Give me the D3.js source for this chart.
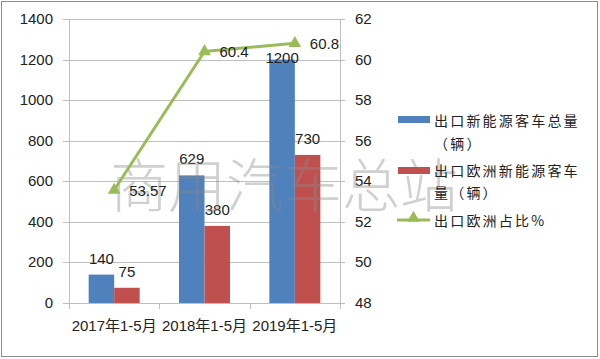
<!DOCTYPE html>
<html><head><meta charset="utf-8">
<script src="https://cdn.jsdelivr.net/npm/d3@7"></script>
<style>body{margin:0;background:#fff}svg{display:block}</style>
</head><body>
<svg id="c" width="600" height="359"></svg>
<script>
const categories = ["2017年1-5月", "2018年1-5月", "2019年1-5月"];
const totalExports = [140, 629, 1200];
const europeExports = [75, 380, 730];
const europeShare = [53.57, 60.4, 60.8];
const shareLabels = ["53.57", "60.4", "60.8"];
const leftTicks = [0, 200, 400, 600, 800, 1000, 1200, 1400];
const rightTicks = [48, 50, 52, 54, 56, 58, 60, 62];
const seriesNames = ["出口新能源客车总量", "出口欧洲新能源客车量（辆）", "出口欧洲占比%"];

const svg = d3.select("#c");
const font = "'Liberation Sans', 'Noto Sans CJK SC', sans-serif";
const cjk = "'Noto Sans CJK SC', sans-serif";
const blue = "#4f81bd", red = "#c0504d", green = "#9bbb59", grid = "#bfbfbf";
const L = 69, R = 340, T = 19, B = 303;

svg.append("rect").attr("x", 1.5).attr("y", 1.5).attr("width", 596).attr("height", 355)
  .attr("fill", "#fff").attr("stroke", "#8c8c8c");

const x = d3.scaleBand().domain(categories).range([L, R]);
const yL = d3.scaleLinear().domain([0, 1400]).range([B, T]);
const yR = d3.scaleLinear().domain([48, 62]).range([B, T]);

// gridlines
svg.append("g").selectAll("line").data(leftTicks).join("line")
  .attr("x1", L - 6).attr("x2", R + 5)
  .attr("y1", d => Math.round(yL(d)) + 0.5).attr("y2", d => Math.round(yL(d)) + 0.5)
  .attr("stroke", grid);

svg.append("line").attr("x1", L + 0.5).attr("x2", L + 0.5).attr("y1", T).attr("y2", B + 5).attr("stroke", grid);
svg.append("line").attr("x1", R + 0.5).attr("x2", R + 0.5).attr("y1", T).attr("y2", B + 5).attr("stroke", grid);
const xt = [L, ...categories.map(c => x(c) + x.bandwidth())];
svg.append("g").selectAll("line").data(xt).join("line")
  .attr("x1", d => Math.round(d) + 0.5).attr("x2", d => Math.round(d) + 0.5)
  .attr("y1", B).attr("y2", B + 6).attr("stroke", grid);

svg.append("g").selectAll("text").data(leftTicks).join("text")
  .attr("x", 53).attr("y", d => yL(d) + 5).attr("text-anchor", "end")
  .attr("font-family", font).attr("font-size", 15).attr("fill", "#222").text(d => d);
svg.append("g").selectAll("text").data(rightTicks).join("text")
  .attr("x", 355).attr("y", d => yR(d) + 5)
  .attr("font-family", font).attr("font-size", 15).attr("fill", "#222").text(d => d);
svg.append("g").selectAll("text").data(categories).join("text")
  .attr("x", d => x(d) + x.bandwidth() / 2).attr("y", 331).attr("text-anchor", "middle")
  .attr("font-family", font).attr("font-size", 15).attr("fill", "#222").text(d => d);

// bars
const bw = 25.5;
const g = svg.append("g");
const labelY = v => { const y = yL(v) - 11; return y < T + 40 ? yL(v) + 3 : y; };
categories.forEach((c, i) => {
  const cx = x(c) + x.bandwidth() / 2;
  g.append("rect").attr("x", cx - bw).attr("y", yL(totalExports[i])).attr("width", bw)
    .attr("height", B - yL(totalExports[i])).attr("fill", blue);
  g.append("rect").attr("x", cx).attr("y", yL(europeExports[i])).attr("width", bw)
    .attr("height", B - yL(europeExports[i])).attr("fill", red);
  g.append("text").attr("x", cx - bw / 2).attr("y", labelY(totalExports[i])).attr("text-anchor", "middle")
    .attr("font-family", font).attr("font-size", 15).attr("fill", "#222").text(totalExports[i]);
  g.append("text").attr("x", cx + bw / 2).attr("y", labelY(europeExports[i])).attr("text-anchor", "middle")
    .attr("font-family", font).attr("font-size", 15).attr("fill", "#222").text(europeExports[i]);
});

// watermark
svg.append("text").attr("x", 110).attr("y", 207).attr("font-family", cjk).attr("font-weight", 300)
  .attr("font-size", 58).attr("fill", "#8a8a8a").attr("fill-opacity", 0.4)
  .text("商用汽车总站");

// line
const line = d3.line().x((d, i) => x(categories[i]) + x.bandwidth() / 2).y(d => yR(d));
svg.append("path").datum(europeShare).attr("d", line).attr("fill", "none")
  .attr("stroke", green).attr("stroke-width", 3);
const tri = d3.symbol().type(d3.symbolTriangle).size(70);
svg.append("g").selectAll("path").data(europeShare).join("path")
  .attr("transform", (d, i) => `translate(${x(categories[i]) + x.bandwidth() / 2},${yR(d)})`)
  .attr("d", tri).attr("fill", green);
svg.append("g").selectAll("text").data(europeShare).join("text")
  .attr("x", (d, i) => x(categories[i]) + x.bandwidth() / 2 + 15).attr("y", d => yR(d) + 6)
  .attr("font-family", font).attr("font-size", 15).attr("fill", "#222").text((d, i) => shareLabels[i]);

// legend
const lg = svg.append("g").attr("font-family", cjk).attr("font-size", 14).attr("fill", "#222").attr("letter-spacing", 2.2);
lg.append("rect").attr("x", 398).attr("y", 116).attr("width", 32).attr("height", 7).attr("fill", blue);
lg.append("text").attr("x", 434).attr("y", 126).text("出口新能源客车总量");
lg.append("text").attr("x", 434).attr("y", 149).text("（辆）");
lg.append("rect").attr("x", 398).attr("y", 167).attr("width", 32).attr("height", 7).attr("fill", red);
lg.append("text").attr("x", 434).attr("y", 176).text("出口欧洲新能源客车");
lg.append("text").attr("x", 434).attr("y", 198).text("量（辆）");
lg.append("line").attr("x1", 397).attr("x2", 430).attr("y1", 220).attr("y2", 220).attr("stroke", green).attr("stroke-width", 3);
lg.append("path").attr("transform", "translate(413.5,218)").attr("d", tri).attr("fill", green);
lg.append("text").attr("x", 434).attr("y", 226).text(seriesNames[2]);
</script>
</body></html>
